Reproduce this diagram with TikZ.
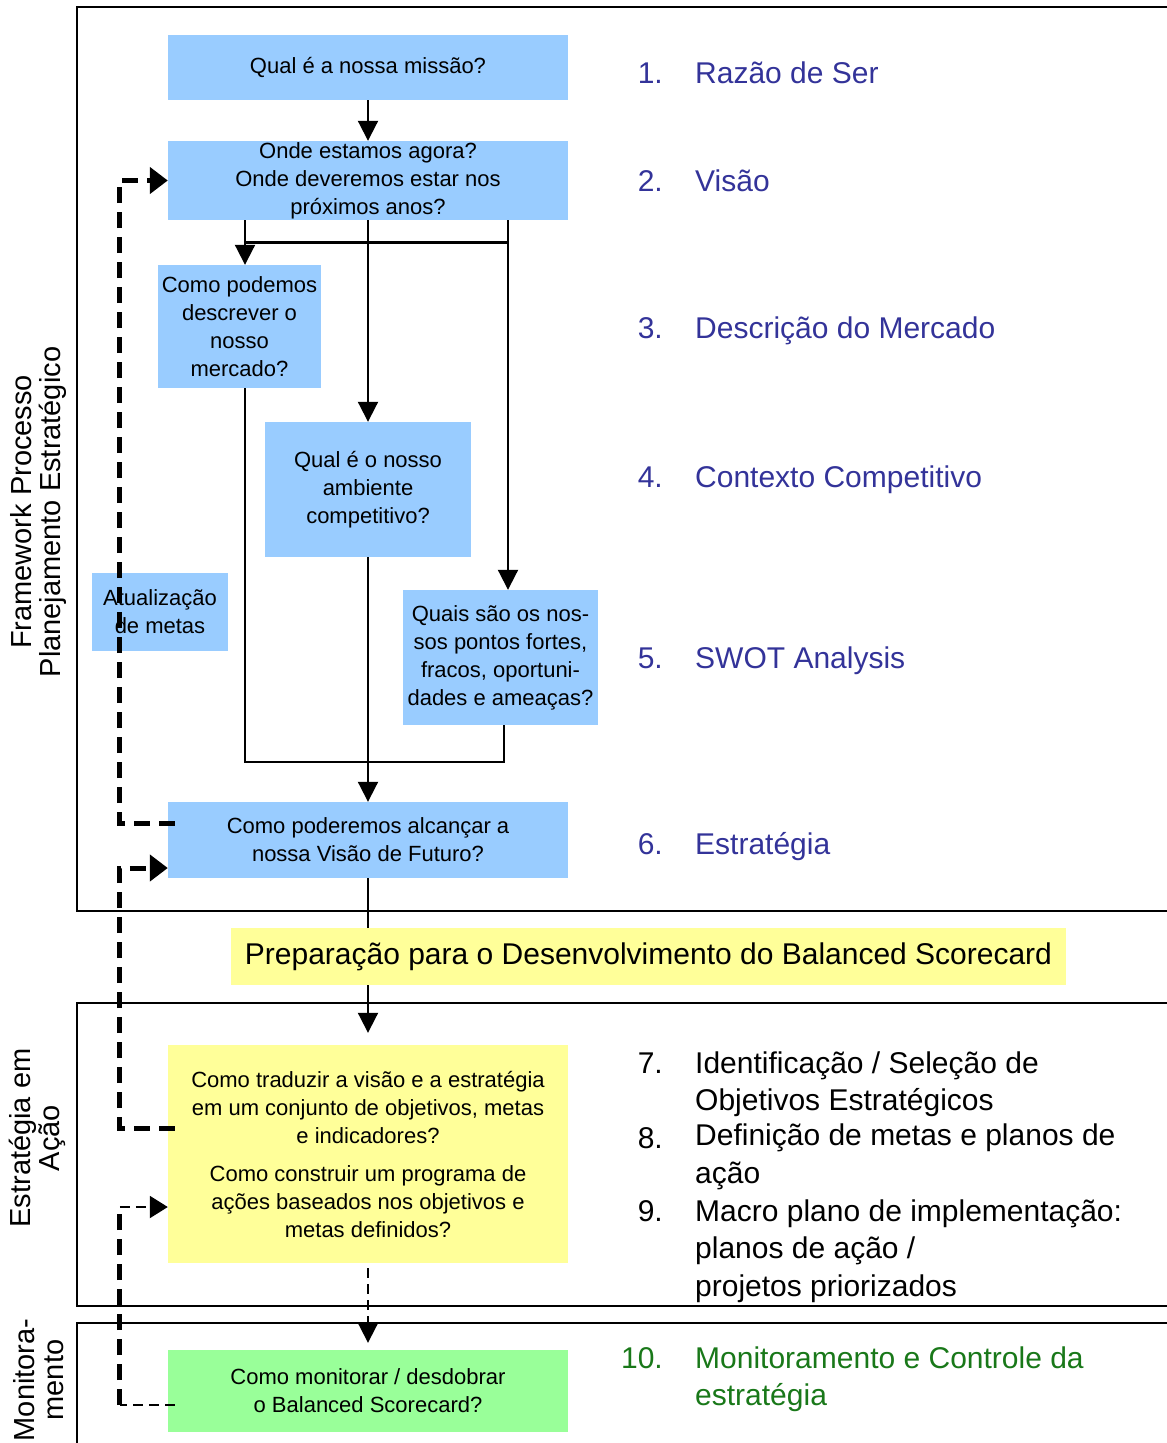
\documentclass[tikz,border=0pt]{standalone}
\usepackage{fontspec}
\setmainfont{Liberation Sans}
\usetikzlibrary{arrows.meta, positioning, calc}
\definecolor{boxblue}{RGB}{153,204,255}
\definecolor{boxyellow}{RGB}{255,255,153}
\definecolor{boxgreen}{RGB}{153,255,153}
\definecolor{stepblue}{RGB}{51,51,153}
\definecolor{stepgreen}{RGB}{25,120,25}

\begin{document}
\begin{tikzpicture}[x=1pt, y=-1pt,
    askbox/.style={fill=boxblue, inner sep=0pt, align=center, font=\fontsize{22}{28}\selectfont},
    prepbox/.style={fill=boxyellow, inner sep=0pt, minimum width=835pt, minimum height=57pt, font=\fontsize{30}{36}\selectfont},
    sidelbl/.style={rotate=90, align=center, inner sep=0pt, font=\fontsize{29}{29}\selectfont},
    numlbl/.style={anchor=base east, inner sep=0pt, font=\fontsize{30}{37.5}\selectfont},
    steplbl/.style={anchor=base west, inner sep=0pt, align=left, font=\fontsize{30}{37.5}\selectfont},
    frame/.style={line width=2pt},
    ln/.style={line width=2pt},
    arr/.style={line width=2pt, -{Triangle[length=20pt, width=20pt]}},
    dline/.style={line width=2pt, dash pattern=on 10pt off 6pt},
    fbline/.style={line width=5pt, dash pattern=on 16pt off 9pt},
    fbtip/.style={-{Triangle[length=18pt, width=26pt]}}
]
\useasboundingbox (0,0) rectangle (1167,1443);
\clip (0,0) rectangle (1167,1443);

% frames
\draw[frame] (1167,7) -- (77,7) -- (77,911) -- (1167,911);
\draw[frame] (1167,1003) -- (77,1003) -- (77,1306) -- (1167,1306);
\draw[frame] (1167,1323) -- (77,1323) -- (77,1460);

% side titles
\node[sidelbl] (fwlbl) at (39,512) {Framework Processo\\Planejamento Estratégico};
\node[sidelbl] (acaolbl) at (37,1138) {Estratégia em\\Ação};
\node[sidelbl] (monlbl) at (39,1380) {Monitora-\\mento};

% question boxes
\node[askbox, minimum width=400pt, minimum height=65pt] (missao) at (368,67.5) {Qual é a nossa missão?};
\node[askbox, minimum width=400pt, minimum height=79pt] (onde) at (368,180.5) {Onde estamos agora?\\Onde deveremos estar nos\\próximos anos?};
\node[askbox, minimum width=163pt, minimum height=123pt] (mercado) at (239.5,326.5) {Como podemos\\descrever o\\nosso\\mercado?};
\node[askbox, minimum width=206pt, minimum height=135pt] (ambiente) at (368,489.5) {Qual é o nosso\\ambiente\\competitivo?};
\node[askbox, minimum width=195pt, minimum height=135pt] (swot) at (500.5,657.5) {Quais são os nos-\\sos pontos fortes,\\fracos, oportuni-\\dades e ameaças?};
\node[askbox, minimum width=136pt, minimum height=78pt] (metas) at (160,612) {Atualização\\de metas};
\node[askbox, minimum width=400pt, minimum height=76pt] (estrategia) at (368,840) {Como poderemos alcançar a\\nossa Visão de Futuro?};
\node[prepbox] (prep) at (648.5,956.5) {Preparação para o Desenvolvimento do Balanced Scorecard};
\node[askbox, fill=boxyellow, minimum width=400pt, minimum height=218pt] (traduzir) at (368,1154) {Como traduzir a visão e a estratégia\\em um conjunto de objetivos, metas\\e indicadores?\\[10pt]Como construir um programa de\\ações baseados nos objetivos e\\metas definidos?};
\node[askbox, fill=boxgreen, minimum width=400pt, minimum height=82pt] (monitorar) at (368,1391) {Como monitorar / desdobrar\\o Balanced Scorecard?};

% steps on the right (multi-line texts sit on the base of their last line)
\node[numlbl, text=stepblue] (n1) at (663,83) {1.};
\node[steplbl, text=stepblue] (s1) at (695,83) {Razão de Ser};
\node[numlbl, text=stepblue] (n2) at (663,191) {2.};
\node[steplbl, text=stepblue] (s2) at (695,191) {Visão};
\node[numlbl, text=stepblue] (n3) at (663,338) {3.};
\node[steplbl, text=stepblue] (s3) at (695,338) {Descrição do Mercado};
\node[numlbl, text=stepblue] (n4) at (663,487) {4.};
\node[steplbl, text=stepblue] (s4) at (695,487) {Contexto Competitivo};
\node[numlbl, text=stepblue] (n5) at (663,668) {5.};
\node[steplbl, text=stepblue] (s5) at (695,668) {SWOT Analysis};
\node[numlbl, text=stepblue] (n6) at (663,854) {6.};
\node[steplbl, text=stepblue] (s6) at (695,854) {Estratégia};
\node[numlbl] (n7) at (663,1073) {7.};
\node[steplbl] (s7) at (695,1110.5) {Identificação / Seleção de\\Objetivos Estratégicos};
\node[numlbl] (n8) at (663,1148) {8.};
\node[steplbl] (s8) at (695,1183) {Definição de metas e planos de\\ação};
\node[numlbl] (n9) at (663,1221) {9.};
\node[steplbl] (s9) at (695,1296) {Macro plano de implementação:\\planos de ação /\\projetos priorizados};
\node[numlbl, text=stepgreen] (n10) at (663,1368) {10.};
\node[steplbl, text=stepgreen] (s10) at (695,1405.5) {Monitoramento e Controle da\\estratégia};

% main flow
\coordinate (brL) at (245,242);
\coordinate (brR) at (508,242);
\coordinate (mgL) at (245,762);
\coordinate (mgR) at (504,762);
\draw[arr] (missao) -- (onde);
\draw[line width=3pt] (brL) -- (brR);
\draw[arr] (onde.south -| brL) -- (brL |- mercado.north);
\draw[arr] (onde) -- (ambiente);
\draw[arr] (onde.south -| brR) -- (brR |- swot.north);
\draw[ln] (brL |- mercado.south) -- (mgL) -- (mgR) -- (mgR |- swot.south);
\draw[arr] (ambiente) -- (estrategia);
\draw[ln] (estrategia) -- (estrategia.south |- prep.north);
\draw[arr, shorten >=12pt] (estrategia.south |- prep.south) -- (traduzir.north);
\draw[arr, dash pattern=on 10pt off 6pt, shorten <=5pt, shorten >=7pt] (traduzir) -- (monitorar);

% feedback loops
\coordinate (aFrom) at ($(estrategia.west)+(7,-17)$);
\coordinate (aCorner) at ($(onde.west)+(-48,0)$);
\draw[fbline, fbtip] (aFrom) -| (aCorner) -- (onde.west);
\coordinate (bFrom) at ($(traduzir.west)+(7,-26)$);
\coordinate (bCorner) at ($(estrategia.west)+(-48,28)$);
\coordinate (bTo) at ($(estrategia.west)+(0,28)$);
\draw[fbline, fbtip] (bFrom) -| (bCorner) -- (bTo);
\coordinate (cFrom) at ($(monitorar.west)+(7,14)$);
\coordinate (cBot) at ($(monitorar.west)+(-48,14)$);
\coordinate (cTop) at ($(traduzir.west)+(-48,53)$);
\coordinate (cTo) at ($(traduzir.west)+(0,53)$);
\draw[dline] (cFrom) -- (cBot);
\draw[fbline] (cBot) -- (cTop);
\draw[dline, -{Triangle[length=18pt, width=22pt]}] (cTop) -- (cTo);
\end{tikzpicture}
\end{document}
